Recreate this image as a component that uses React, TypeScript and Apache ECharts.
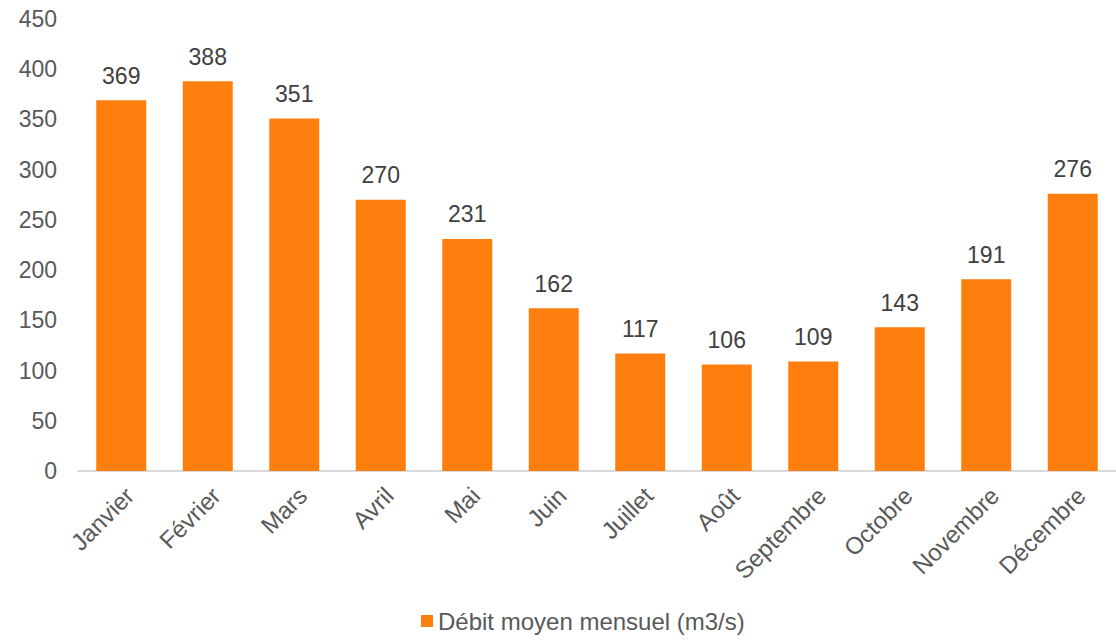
import React, { useEffect, useRef } from "react";
import * as echarts from "echarts";

const months = ["Janvier", "Février", "Mars", "Avril", "Mai", "Juin", "Juillet", "Août", "Septembre", "Octobre", "Novembre", "Décembre"];
const debit = [369, 388, 351, 270, 231, 162, 117, 106, 109, 143, 191, 276];
const seriesName = "Débit moyen mensuel (m3/s)";

export default function App() {
  const ref = useRef<HTMLDivElement>(null);
  useEffect(() => {
    document.body.style.margin = "0";
    const chart = echarts.init(ref.current!, null, { renderer: "svg" });
    const font = "'Liberation Sans', Arial, sans-serif";
    chart.setOption({
      animation: false,
      backgroundColor: "#ffffff",
      grid: { left: 78, top: 19, width: 1048, height: 452, containLabel: false },
      legend: {
        top: 609,
        left: 421,
        icon: "rect",
        itemWidth: 12,
        itemHeight: 12,
        itemGap: 5,
        padding: 0,
        textStyle: { fontFamily: font, fontSize: 24, color: "#595959" },
        data: [seriesName],
      },
      xAxis: {
        type: "category",
        data: months,
        axisLine: { lineStyle: { color: "#d9d9d9", width: 2 } },
        axisTick: { show: false },
        axisLabel: { rotate: 45, fontFamily: font, fontSize: 24, color: "#595959", margin: 12, verticalAlign: "top", interval: 0 },
      },
      yAxis: {
        type: "value",
        min: 0,
        max: 450,
        interval: 50,
        splitLine: { show: false },
        axisLine: { show: false },
        axisTick: { show: false },
        axisLabel: { fontFamily: font, fontSize: 23, color: "#595959", margin: 21 },
      },
      series: [
        {
          name: seriesName,
          type: "bar",
          data: debit,
          barWidth: 50,
          itemStyle: { color: "#ff7f0e" },
          label: { show: true, position: "top", distance: 13, fontFamily: font, fontSize: 23, color: "#404040" },
        },
      ],
    });
    return () => chart.dispose();
  }, []);
  return <div ref={ref} style={{ width: 1116, height: 642 }} />;
}
